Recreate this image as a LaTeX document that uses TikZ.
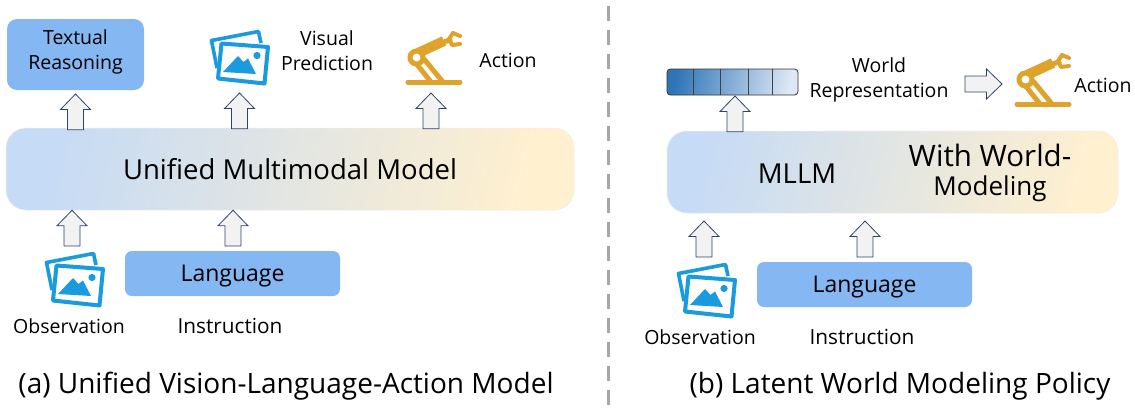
\documentclass[tikz,border=0pt]{standalone}
\usepackage{fontspec}
\setmainfont{Open Sans}
\usetikzlibrary{calc}
\definecolor{boxblue}{HTML}{85B7F2}
\definecolor{photoblue}{HTML}{1A9BE0}
\definecolor{robotgold}{HTML}{DFA32B}
\definecolor{arrowedge}{HTML}{2F4468}
\definecolor{arrowfill}{HTML}{F2F2F2}
\definecolor{dividergray}{HTML}{A6A6A6}
\tikzset{
  lab/.style={inner sep=0pt, align=center, text=black, font=\fontsize{19.5}{25}\selectfont},
  inslab/.style={inner sep=0pt, align=center, text=black, font=\fontsize{20.8}{25}\selectfont},
  langlab/.style={font=\fontsize{23}{25}\selectfont, text=black},
  biglab/.style={inner sep=0pt, align=center, text=black, font=\fontsize{27.5}{33}\selectfont},
  worldlab/.style={inner sep=0pt, align=center, text=black, font=\fontsize{29.5}{33}\selectfont},
  modellab/.style={inner sep=0pt, align=center, text=black, font=\fontsize{26}{33}\selectfont},
  caption/.style={inner sep=0pt, text=black, font=\fontsize{28}{30}\selectfont},
  bluebox/.style={inner sep=0pt, fill=boxblue, draw=none},
  modelbox/.style={inner sep=0pt, rounded corners=20pt, draw=black!7, line width=.5pt,
    left color={rgb,255:red,198;green,219;blue,245},
    middle color={rgb,255:red,232;green,232;blue,232}, right color={rgb,255:red,255;green,240;blue,207},
    shading angle=75},
  blockarrow/.style={draw=arrowedge, fill=arrowfill, line width=.8pt, line join=miter,
    to path={
      ($(\tikztostart)!8pt!90:(\tikztotarget)$)
      -- ($(\tikztotarget)!15.5pt!(\tikztostart)!8pt!-90:(\tikztostart)$)
      -- ($(\tikztotarget)!15.5pt!(\tikztostart)!15pt!-90:(\tikztostart)$)
      -- (\tikztotarget)
      -- ($(\tikztotarget)!15.5pt!(\tikztostart)!15pt!90:(\tikztostart)$)
      -- ($(\tikztotarget)!15.5pt!(\tikztostart)!8pt!90:(\tikztostart)$)
      -- ($(\tikztostart)!8pt!-90:(\tikztotarget)$)
      -- cycle}},
  photoicon/.pic={
    \draw[photoblue, line width=3.6pt, line join=round] (7,39) -- (1.5,11.5) -- (48.5,2.5) -- (51,14);
    \draw[photoblue, fill=white, line width=4pt, line join=round] (11.5,14.5) -- (58,18) -- (54.5,54.5) -- (8,49.5) -- cycle;
    \fill[photoblue] (13,43) -- (28,27) -- (33.5,33) -- (38,29.5) -- (46,45) -- cycle;
    \fill[photoblue] (47,26.5) circle (3.6pt);
  },
  roboticon/.pic={
    \draw[robotgold, line width=5pt, line cap=round] (0,49) -- (52,49);
    \draw[robotgold, line width=5pt] (7,29) -- (23,49);
    \draw[robotgold, line width=5pt] (16,26) -- (35,49);
    \draw[robotgold, line width=10pt] (10,20) -- (36,8);
    \draw[robotgold, line width=5pt] (36,9) -- (44,6);
    \draw[robotgold, line width=4pt, line cap=round, line join=round] (45,0) -- (41,6) -- (44,12) -- (52,11);
    \draw[robotgold, line width=4pt, line cap=round] (45,0) -- (52,3);
    \draw[robotgold, line width=5pt, fill=white] (8.5,24.5) circle (6.5pt);
  },
}
\begin{document}
\begin{tikzpicture}[x=1pt,y=-1pt]
\useasboundingbox (0,0) rectangle (1135,410);
\fill[white] (0,0) rectangle (1135,410);

% divider
\coordinate (divtop) at (608,6);
\coordinate (divbot) at (608,410);
\draw[dividergray, line width=3pt, dash pattern=on 15pt off 9pt] (divtop) -- (divbot);

% ---------- left panel
\node[bluebox, rounded corners=10pt, minimum width=137pt, minimum height=71pt] (reason) at (75.5,54.5) {};
\node[lab] (reasontxt) at (75.5,52) {Textual\\Reasoning};
\pic at (210,29) {photoicon};
\node[lab] (vispred) at (327,51) {Visual\\Prediction};
\pic at (408,33) {roboticon};
\node[lab] (act1) at (508,60) {Action};

\node[modelbox, minimum width=568pt, minimum height=82pt, biglab] (model) at (290,169) {Unified Multimodal Model};

\coordinate (t1) at (75.5,94);
\coordinate (t2) at (239.5,93);
\coordinate (t3) at (431,93);
\draw[blockarrow] ($(model.north -| t1)+(0,2)$) to (t1);
\draw[blockarrow] ($(model.north -| t2)+(0,1)$) to (t2);
\draw[blockarrow] ($(model.north -| t3)+(0,1)$) to (t3);

\coordinate (b1) at (72,246);
\coordinate (b2) at (233,246);
\draw[blockarrow] (b1) to (model.south -| b1);
\draw[blockarrow] (b2) to (model.south -| b2);

\pic at (45,251) {photoicon};
\node[bluebox, rounded corners=7pt, minimum width=215pt, minimum height=45pt] (lang1) at (232.5,273.5) {};
\node[langlab, inner sep=0pt] (lang1txt) at (232.5,276.5) {Language};
\node[lab] (obs1) at (69,326) {Observation};
\node[inslab] (ins1) at (230,326) {Instruction};
\node[caption] (capa) at (286,386) {(a) Unified Vision-Language-Action Model};

% ---------- right panel
\node[inner sep=0pt, minimum width=131pt, minimum height=26pt, rounded corners=3.5pt, draw=black!80, line width=.8pt,
  left color={rgb,255:red,46;green,117;blue,182}, middle color={rgb,255:red,158;green,190;blue,224}, right color={rgb,255:red,222;green,232;blue,245}, shading angle=80] (bar) at (732.5,82) {};
\foreach \f in {.2,.41,.62,.8}
  \draw[black!75, line width=.8pt] ($(bar.north west)!\f!(bar.north east)$) -- ($(bar.south west)!\f!(bar.south east)$);
\node[lab] (worldrep) at (879,80) {World\\Representation};
\coordinate (hs) at (965,84);
\coordinate (he) at (1002,84);
\draw[blockarrow] (hs) to (he);
\pic at (1017,55) {roboticon};
\node[lab] (act2) at (1103,85) {Action};

\node[modelbox, minimum width=451pt, minimum height=82pt] (model2) at (892.5,172) {};
\node[biglab] (mllm) at (797,174) {MLLM};
\node[worldlab] (wm) at (990,155) {With World-};
\node[modellab] (wm2) at (990,189) {Modeling};

\coordinate (t4) at (735,96);
\draw[blockarrow] ($(model2.north -| t4)+(0,1)$) to (t4);
\coordinate (b3) at (704,257);
\coordinate (b4) at (865,257);
\coordinate (t5) at (704,221);
\coordinate (t6) at (865,221);
\draw[blockarrow] (b3) to (t5);
\draw[blockarrow] (b4) to (t6);

\pic at (677,262) {photoicon};
\node[bluebox, rounded corners=7pt, minimum width=215pt, minimum height=45pt] (lang2) at (864.5,284.5) {};
\node[langlab, inner sep=0pt] (lang2txt) at (864.5,287.5) {Language};
\node[lab] (obs2) at (700,337) {Observation};
\node[inslab] (ins2) at (862,337) {Instruction};
\node[caption] (capb) at (900,386) {(b) Latent World Modeling Policy};
\end{tikzpicture}
\end{document}
